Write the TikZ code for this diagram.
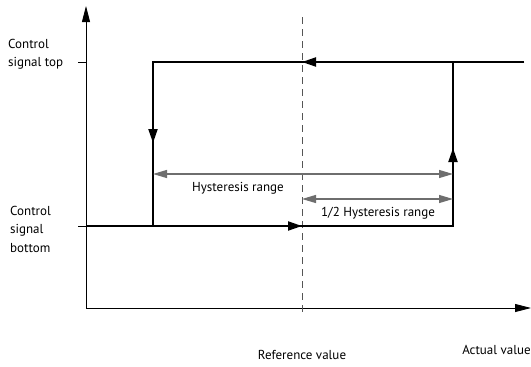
\documentclass[tikz,border=0pt]{standalone}
\usepackage{fontspec}
\setmainfont{PT Sans}
\usetikzlibrary{arrows.meta,positioning}
\definecolor{rangegray}{HTML}{6E6E6E}
\definecolor{refgray}{HTML}{555555}
\tikzset{
  axisline/.style={line width=0.9pt, draw=black, -{Triangle[length=16pt, width=8pt]}},
  signal/.style={line width=2pt, draw=black},
  signalarrow/.style={line width=2pt, draw=black, -{Triangle[length=14pt, width=9pt]}},
  rangearrow/.style={line width=1.2pt, draw=rangegray, {Triangle[length=14pt, width=8pt]}-{Triangle[length=14pt, width=8pt]}},
  refline/.style={line width=0.8pt, draw=refgray, dash pattern=on 7pt off 5pt},
  tickline/.style={line width=0.8pt, draw=black},
  axislabel/.style={font=\fontsize{13}{18.5}\selectfont, align=left, inner sep=0pt}
}
\begin{document}
\begin{tikzpicture}[x=1pt, y=-1pt]
  \useasboundingbox[fill=white] (0,0) rectangle (531,367);
  % axes
  \coordinate (origin) at (86,308);
  \coordinate (ytip) at (86,6);
  \coordinate (xtip) at (531,308);
  \draw[axisline] (origin) -- (ytip);
  \draw[axisline] (origin) -- (xtip);
  % signal levels and switching points
  \coordinate (bottomL) at (86,226);
  \coordinate (switchOn) at (153,226);
  \coordinate (switchOnTop) at (153,62);
  \coordinate (switchOff) at (453,226);
  \coordinate (switchOffTop) at (453,62);
  \coordinate (topR) at (524,62);
  \coordinate (refTop) at (302,17);
  \coordinate (refBottom) at (302,316);
  \coordinate (refUp) at (302,62);
  \coordinate (refLow) at (302,226);
  % ticks
  \draw[tickline] (78,62) -- (86,62);
  \draw[tickline] (78,226) -- (86,226);
  \draw[refline] (refTop) -- (refBottom);
  % hysteresis loop
  \draw[signal] (bottomL) -- (switchOff) -- (switchOffTop);
  \draw[signalarrow] (bottomL) -- (refLow);
  \draw[signalarrow] (switchOff) -- (453,148);
  \draw[signal] (topR) -- (switchOnTop) -- (switchOn);
  \draw[signalarrow] (topR) -- (refUp);
  \draw[signalarrow] (switchOnTop) -- (153,143);
  % ranges
  \coordinate (hystL) at (153,174);
  \coordinate (hystR) at (453,174);
  \coordinate (halfL) at (302,199);
  \coordinate (halfR) at (453,199);
  \draw[rangearrow] (hystL) -- (hystR);
  \draw[rangearrow] (halfL) -- (halfR);
  % labels
  \node[axislabel, anchor=north west] (toplabel) at (8,39) {Control\\signal top};
  \node[axislabel, anchor=north west] (bottomlabel) at (10,206) {Control\\signal\\bottom};
  \node[axislabel] (hystlabel) at (238,188) {Hysteresis range};
  \node[axislabel] (halflabel) at (378,213) {1/2 Hysteresis range};
  \node[axislabel] (reflabel) at (302,355) {Reference value};
  \node[axislabel, anchor=east] (actlabel) at (531,350) {Actual value};
\end{tikzpicture}
\end{document}
